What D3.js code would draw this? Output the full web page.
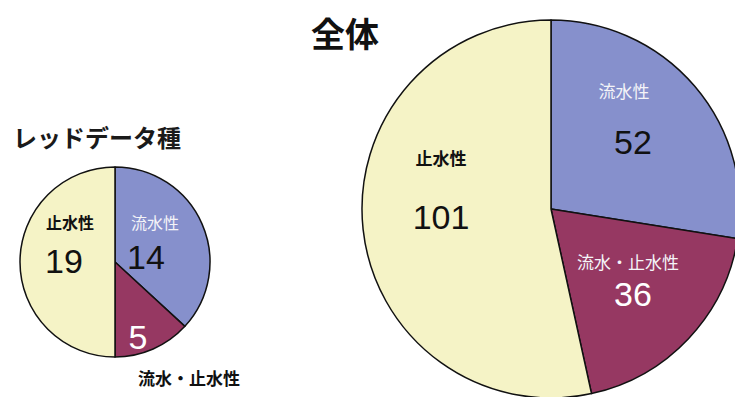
<!DOCTYPE html>
<html>
<head>
<meta charset="utf-8">
<script src="https://cdn.jsdelivr.net/npm/d3@7"></script>
<style>
  html, body { margin: 0; padding: 0; background: #fff; }
  svg { display: block; }
  .jp { font-family: "Noto Sans CJK JP", "Noto Sans", sans-serif; }
  .num { font-family: "Liberation Sans", Arial, sans-serif; }
</style>
</head>
<body>
<svg id="chart" width="735" height="397"></svg>
<script>
// Categories (habitat type) and counts
const categories = ["流水性", "流水・止水性", "止水性"];
const redDataValues = [14, 5, 19];
const allValues = [52, 36, 101];
const titles = ["レッドデータ種", "全体"];

const colors = ["#8690cc", "#963862", "#f5f3c6"];
const color = d3.scaleOrdinal().domain(categories).range(colors);

const svg = d3.select("#chart");

const pie = d3.pie().sort(null).value(d => d.value);

function drawPie(values, cx, cy, r, labels) {
  const data = categories.map((c, i) => ({ cat: c, value: values[i] }));
  const arcs = pie(data);
  const arc = d3.arc().innerRadius(0).outerRadius(r);
  const g = svg.append("g").attr("transform", `translate(${cx},${cy})`);
  g.selectAll("path").data(arcs).join("path")
    .attr("d", arc)
    .attr("fill", d => color(d.data.cat))
    .attr("stroke", "#111")
    .attr("stroke-width", 1.5)
    .attr("stroke-linejoin", "round");

  // labels: category name and value, positioned relative to the pie centre
  labels.forEach((l, i) => {
    const d = arcs[i];
    if (l.name) {
      g.append("text").attr("class", "jp")
        .attr("x", l.nx).attr("y", l.ny)
        .attr("text-anchor", "middle").attr("dominant-baseline", "central")
        .attr("font-size", l.nsize).attr("font-weight", l.nweight)
        .attr("fill", l.nfill)
        .text(d.data.cat);
    }
    g.append("text").attr("class", "num")
      .attr("x", l.vx).attr("y", l.vy)
      .attr("text-anchor", "middle").attr("dominant-baseline", "central")
      .attr("font-size", l.vsize)
      .attr("fill", l.vfill)
      .text(d.data.value);
  });
  return g;
}

// Red-data species pie
drawPie(redDataValues, 115, 262, 95, [
  { name: true, nx: 40, ny: -40, nsize: 16, nweight: 400, nfill: "#f4f4f8", vx: 31, vy: -5, vsize: 34, vfill: "#111" },
  { name: false, vx: 23, vy: 75, vsize: 34, vfill: "#fff" },
  { name: true, nx: -45, ny: -40, nsize: 16, nweight: 700, nfill: "#111", vx: -51, vy: -1, vsize: 34, vfill: "#111" }
]);
// outside label for the small slice
svg.append("text").attr("class", "jp")
  .attr("x", 189).attr("y", 377)
  .attr("text-anchor", "middle").attr("dominant-baseline", "central")
  .attr("font-size", 17).attr("font-weight", 700).attr("fill", "#111")
  .text(categories[1]);

// Overall pie
drawPie(allValues, 551, 209, 189, [
  { name: true, nx: 73, ny: -119, nsize: 17, nweight: 400, nfill: "#f4f4f8", vx: 82, vy: -67, vsize: 34, vfill: "#111" },
  { name: true, nx: 77, ny: 52, nsize: 17, nweight: 400, nfill: "#f4f4f8", vx: 82, vy: 85, vsize: 34, vfill: "#fff" },
  { name: true, nx: -110, ny: -52, nsize: 17, nweight: 700, nfill: "#111", vx: -110, vy: 8, vsize: 34, vfill: "#111" }
]);

// Titles
svg.append("text").attr("class", "jp")
  .attr("x", 13).attr("y", 136)
  .attr("dominant-baseline", "central")
  .attr("font-size", 24).attr("font-weight", 700).attr("fill", "#1a1a1a")
  .text(titles[0]);
svg.append("text").attr("class", "jp")
  .attr("x", 345).attr("y", 32)
  .attr("text-anchor", "middle").attr("dominant-baseline", "central")
  .attr("font-size", 34).attr("font-weight", 700).attr("fill", "#111")
  .text(titles[1]);
</script>
</body>
</html>
